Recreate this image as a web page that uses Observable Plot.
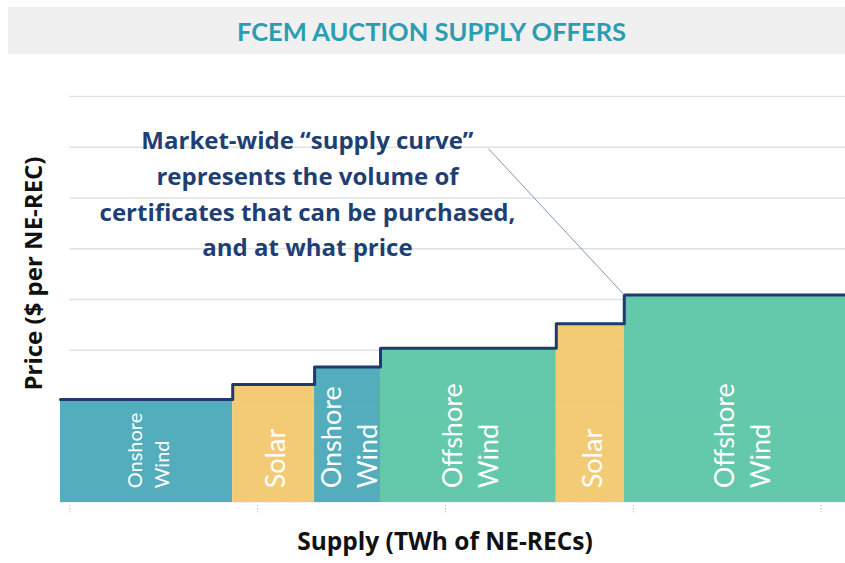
<!DOCTYPE html>
<html>
<head>
<meta charset="utf-8">
<script src="https://cdn.jsdelivr.net/npm/d3@7"></script>
<script src="https://cdn.jsdelivr.net/npm/@observablehq/plot@0.6"></script>
<style>
  html, body { margin: 0; padding: 0; background: #fff; overflow: hidden; }
  #title {
    margin: 7px 0 0 8px; height: 47px; background: #f0f0f0;
    color: #2a9db0; font: bold 25.5px Lato, sans-serif;
    display: flex; align-items: center; justify-content: center; padding-left: 10px;
  }
  #chart svg { overflow: hidden; display: block; }
</style>
</head>
<body>
<div id="title">FCEM AUCTION SUPPLY OFFERS</div>
<div id="chart"></div>
<script>
// ---- data ----
const categories = ["Onshore Wind", "Solar", "Onshore Wind", "Offshore Wind", "Solar", "Offshore Wind"];
const barLabels = ["Onshore\nWind", "Solar", "Onshore\nWind", "Offshore\nWind", "Solar", "Offshore\nWind"];
const supplyStart = [-0.05, 0.867, 1.303, 1.654, 2.590, 2.952];
const supplyEnd = [0.867, 1.303, 1.654, 2.590, 2.952, 4.19];
const price = [2.03, 2.325, 2.67, 3.04, 3.52, 4.09];
const xTicks = [0, 1, 2, 3, 4];
const yGrid = [1, 2, 3, 4, 5, 6, 7, 8];
const annotationText = "Market-wide \u201csupply curve\u201d\nrepresents the volume of\ncertificates that can be purchased,\nand at what price";
const annotationAt = {x: 1.265, y: 6.13, fromX: 2.228, fromY: 6.975};
const yLabel = "Price ($ per NE-REC)";
const xLabel = "Supply (TWh of NE-RECs)";

const colorDomain = ["Onshore Wind", "Solar", "Offshore Wind"];
const colorRange = ["#4aa9b9", "#f2c86d", "#5cc5a7"];

const segs = categories.map((c, i) => ({
  cat: c, label: barLabels[i], x1: supplyStart[i], x2: supplyEnd[i], p: price[i],
  mid: (supplyStart[i] + supplyEnd[i]) / 2, i
}));
const stepPts = segs.map(d => ({x: d.x1, y: d.p}));
stepPts.push({x: supplyEnd[supplyEnd.length - 1], y: price[price.length - 1]});
const last = segs[segs.length - 1];

const xMin = -0.05, xMax = 4.13;
const boldFont = "'Open Sans', sans-serif";

const plot = Plot.plot({
  width: 845,
  height: 509,
  marginLeft: 60,
  marginRight: 0,
  marginTop: 42,
  marginBottom: 61,
  x: {domain: [xMin, xMax], axis: null},
  y: {domain: [0, 8], axis: null},
  color: {domain: colorDomain, range: colorRange},
  style: {fontFamily: "Lato, sans-serif", background: "transparent"},
  marks: [
    Plot.ruleY(yGrid, {x1: 0, x2: xMax, stroke: "#dde2e8", strokeWidth: 1.5}),
    Plot.rectY(segs, {x1: "x1", x2: "x2", y1: 0, y2: "p", fill: "cat", fillOpacity: 0.95}),
    Plot.ruleY([0], {x1: xMin, x2: xMax, stroke: "#e2e4e8", strokeWidth: 1, strokeDasharray: "1.5,1.5"}),
    Plot.ruleX(xTicks, {y1: -0.06, y2: -0.2, stroke: "#c8c8c8", strokeWidth: 1.2, strokeDasharray: "1.5,1.5"}),
    Plot.line(stepPts, {x: "x", y: "y", curve: "step-after", stroke: "#1e3a6e", strokeWidth: 3}),
    Plot.text(segs.filter(d => d.i === 0), {
      x: "mid", y: 0.28, text: "label", rotate: -90, textAnchor: "start",
      lineAnchor: "middle", fill: "white", fontSize: 20, lineHeight: 1.35
    }),
    Plot.text(segs.filter(d => d.i !== 0), {
      x: "mid", y: 0.28, text: "label", rotate: -90, textAnchor: "start",
      lineAnchor: "middle", fill: "white", fontSize: 27, lineHeight: 1.33
    }),
    Plot.link([annotationAt], {
      x1: "fromX", y1: "fromY", x2: () => last.x1, y2: () => last.p,
      stroke: "#8496b5", strokeWidth: 1
    }),
    Plot.text([annotationAt], {
      x: "x", y: "y", text: () => annotationText, lineAnchor: "middle",
      textAnchor: "middle", fill: "#1f3f73", fontSize: 24, fontWeight: "bold",
      fontFamily: boldFont, lineHeight: 1.49
    }),
    Plot.text([yLabel], {
      frameAnchor: "left", text: d => d, rotate: -90, dx: -26, dy: -26,
      textAnchor: "middle", fill: "#111", fontSize: 24, fontWeight: "bold", fontFamily: boldFont
    }),
    Plot.text([xLabel], {
      frameAnchor: "bottom", text: d => d, dx: -8, dy: 47,
      textAnchor: "middle", fill: "#111", fontSize: 24.5, fontWeight: "bold", fontFamily: boldFont
    })
  ]
});
document.getElementById("chart").appendChild(plot);
</script>
</body>
</html>
